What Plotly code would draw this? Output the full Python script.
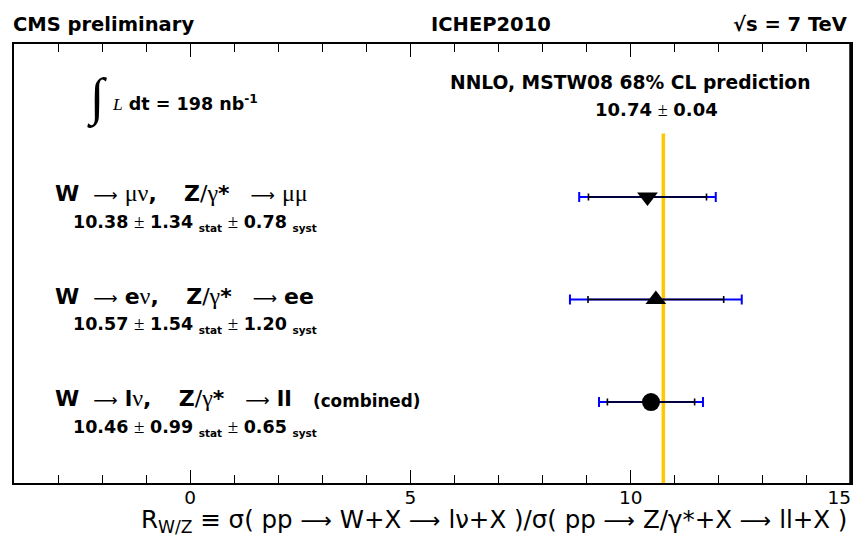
import plotly.graph_objects as go

# ---------------- data ----------------
w_decay = ["μν", "eν", "lν"]
z_decay = ["μμ", "ee", "ll"]
ratio = [10.38, 10.57, 10.46]
stat_err = [1.34, 1.54, 0.99]
syst_err = [0.78, 1.20, 0.65]
total_err = [1.55, 1.95, 1.18]
symbols = ["triangle-down", "triangle-up", "circle"]
marker_sizes = [18, 18, 18]
rows = [3, 2, 1]
pred_value = 10.74
pred_err = 0.04
x_ticks = [0, 5, 10, 15]
x_tick_labels = ["0", "5", "10", "15"]

# ---------------- geometry helpers ----------------
OFF = 8                      # page body margin of the html page
W, H = 861 - OFF, 540 - OFF
ML, MR, MT, MB = 6, 10, 36, 57
PW, PH = W - ML - MR, H - MT - MB
Y_RANGE = [0.21, 4.493]


def px(xp):
    """reference viewport pixel -> paper x"""
    return (xp - OFF - ML) / PW


def py(yp):
    """reference viewport pixel -> paper y"""
    return (H - MB - (yp - OFF)) / PH


def row_pixel(r):
    return OFF + MT + (Y_RANGE[1] - r) / (Y_RANGE[1] - Y_RANGE[0]) * PH


NB = "\u00a0"
THIN = "\u2009"


def serif(t, size=None):
    st = "font-family:'Liberation Serif';font-weight:normal"
    if size:
        st += f";font-size:{size}px"
    return f"<span style=\"{st}\">{t}</span>"


def arrow(size):
    return (f"<span style=\"font-family:'DejaVu Sans';font-weight:normal;"
            f"font-size:{size}px\">⟶</span>")


def particles(s, size):
    out = ""
    for ch in s:
        if ch in "μνγ":
            out += serif(ch, size)
        else:
            out += f"<b>{ch}</b>"
    return out


fig = go.Figure()

# prediction band
fig.add_shape(type="rect", xref="x", yref="y",
              x0=pred_value - pred_err, x1=pred_value + pred_err,
              y0=Y_RANGE[0], y1=3.62,
              fillcolor="#FFC800", line=dict(width=0), layer="below")

# thicker right frame edge, as in the reference
fig.add_shape(type="line", xref="paper", yref="paper", x0=1, x1=1, y0=0, y1=1,
              line=dict(color="black", width=3.5))

# total errors (blue)
fig.add_trace(go.Scatter(
    x=ratio, y=rows, mode="markers",
    marker=dict(color="rgba(0,0,0,0)", size=1),
    error_x=dict(type="data", array=total_err, color="#0000FF",
                 thickness=2, width=5),
    showlegend=False, hoverinfo="skip"))

# stat errors + markers (black)
fig.add_trace(go.Scatter(
    x=ratio, y=rows, mode="markers",
    marker=dict(color="#000000", size=marker_sizes, symbol=symbols,
                opacity=1, line=dict(width=0)),
    error_x=dict(type="data", array=stat_err, color="#000000",
                 thickness=1.6, width=3.5),
    showlegend=False))

ann = []


def add(text, xp, yp, size, anchor="left", **kw):
    ann.append(dict(text=text, x=px(xp), y=py(yp), xref="paper", yref="paper",
                    xanchor=anchor, yanchor="middle", showarrow=False,
                    font=dict(size=size, color="black", **kw)))


# header
add("<b>CMS preliminary</b>", 11, 25, 19.5)
add("<b>ICHEP2010</b>", 491, 25, 19.5, anchor="center")
add("<b>√s = 7 TeV</b>", 849, 25, 19.5, anchor="right")

# luminosity
add("∫", 85, 98, 52, family="Liberation Serif")
add(f"<i>{serif('L')}</i><b> dt = 198 nb<sup>-1</sup></b>", 110, 103, 17.5)

# prediction text
add("<b>NNLO, MSTW08 68% CL prediction</b>", 630, 82, 18.7, anchor="center")
add(f"<b>{pred_value:.2f}</b> {serif('±')} <b>{pred_err:.2f}</b>", 656, 110, 18,
    anchor="center")

# channel labels
for wd, zd, r, s, y, row in zip(w_decay, z_decay, ratio, stat_err, syst_err, rows):
    yp = row_pixel(row)
    txt = (f"<b>W</b>{NB}{NB}{arrow(17)} {particles(wd, 24)}<b>,{NB * 3}{THIN}Z</b>/"
           f"{serif('γ', 24)}<b>*</b>{NB * 3}{arrow(17)}{NB}{particles(zd, 24)}")
    add(txt, 53, yp - 4, 22)
    sub = "<sub><span style=\"font-size:10.5px\"><b>{}</b></span></sub>"
    stxt = (f"<b>{r:.2f}</b> {serif('±', 19)} <b>{s:.2f}</b> " + sub.format("stat") +
            f" {serif('±', 19)} <b>{y:.2f}</b> " + sub.format("syst"))
    add(stxt, 71, yp + 25, 17.5)

add("<b>(combined)</b>", 311, row_pixel(1) - 1, 16.8)

# x-axis title
add(f"R<sub>W/Z</sub> ≡ σ( pp {arrow(22)} W+X {arrow(22)} lν+X )/σ( pp {arrow(22)} "
    f"Z/γ*+X {arrow(22)} ll+X )", 849, 521, 24.5, anchor="right")

# the last label sits at the right edge of the page: pad it so it stays visible
tick_text = x_tick_labels[:-1] + [x_tick_labels[-1] + NB * 4]

fig.update_layout(
    width=W, height=H,
    margin=dict(l=ML, r=MR, t=MT, b=MB),
    paper_bgcolor="white", plot_bgcolor="white",
    font=dict(family="DejaVu Sans", color="black"),
    annotations=ann,
    xaxis=dict(range=[-4, 15], tickvals=x_ticks, ticktext=tick_text,
               ticks="inside", ticklen=13,
               tickwidth=1.3, tickcolor="black", showline=True, linewidth=2,
               linecolor="black", mirror="allticks", showgrid=False,
               zeroline=False, automargin=False, ticklabelstandoff=-3,
               ticklabeloverflow="allow",
               tickfont=dict(size=18.5, family="DejaVu Sans"),
               minor=dict(dtick=1, tick0=0, ticks="inside", ticklen=8,
                          tickwidth=1.3, tickcolor="black", showgrid=False)),
    yaxis=dict(range=Y_RANGE, showticklabels=False, ticks="", showgrid=False,
               zeroline=False, showline=True, linewidth=2, linecolor="black",
               mirror=True, automargin=False),
)

fig.write_html("out.html")
